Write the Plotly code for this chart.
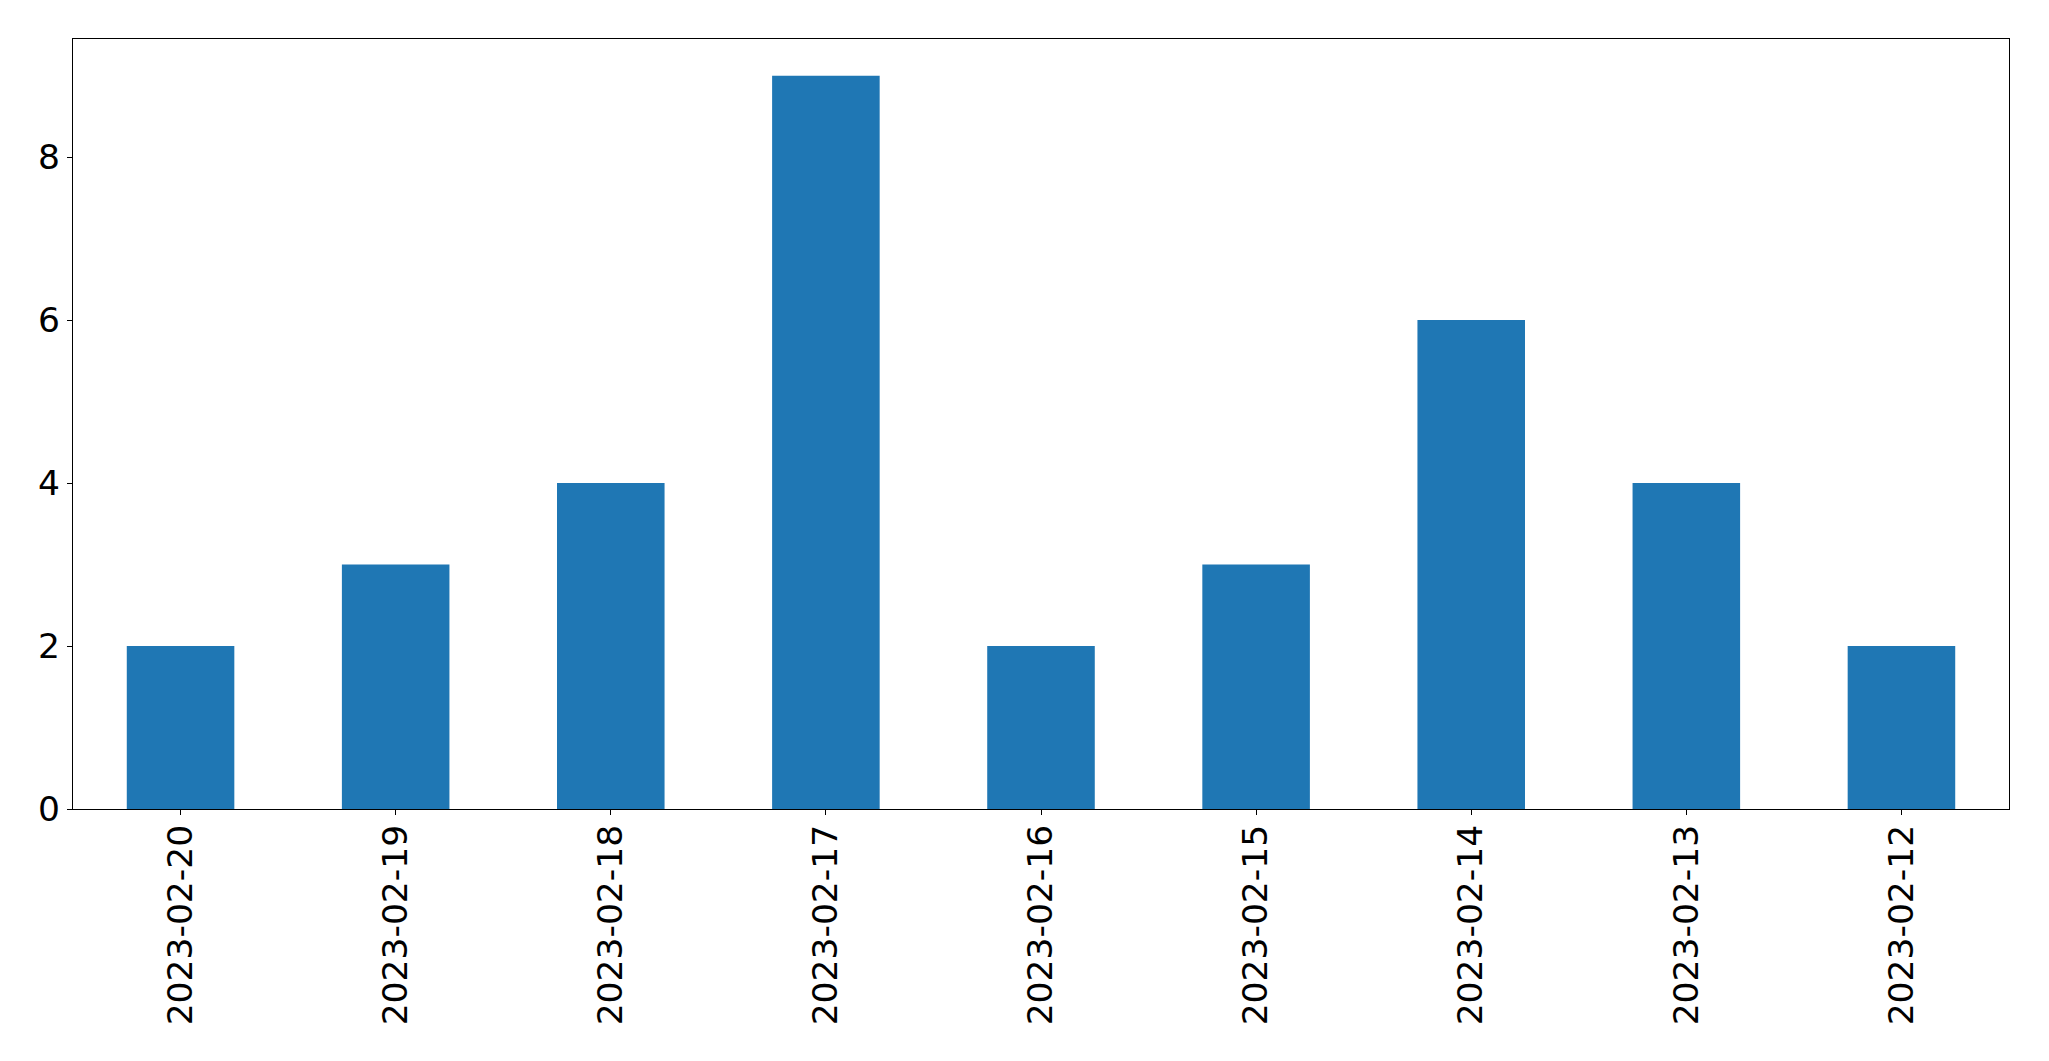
import plotly.graph_objects as go

dates = ["2023-02-20", "2023-02-19", "2023-02-18", "2023-02-17", "2023-02-16",
         "2023-02-15", "2023-02-14", "2023-02-13", "2023-02-12"]
counts = [2, 3, 4, 9, 2, 3, 6, 4, 2]
y_ticks = [0, 2, 4, 6, 8]

fig = go.Figure(go.Bar(x=dates, y=counts, marker_color="#1f77b4", marker_line_width=0))

axis_common = dict(showline=True, linecolor="black", linewidth=1.1, mirror=True,
                   ticks="outside", ticklen=5, tickwidth=1.1, tickcolor="black",
                   showgrid=False, zeroline=False,
                   tickfont=dict(family="DejaVu Sans", size=34.5, color="black"))

fig.update_layout(
    width=2049, height=1061,
    margin=dict(l=73, r=40, t=39, b=252, pad=0),
    plot_bgcolor="white", paper_bgcolor="white",
    bargap=0.5, showlegend=False,
    font=dict(family="DejaVu Sans", color="black"),
)
fig.update_xaxes(type="category", range=[-0.5, 8.5], tickangle=-90,
                 ticklabelstandoff=-4, **axis_common)
fig.update_yaxes(range=[0, 9.45], tickvals=y_ticks, **axis_common)

fig.write_html("out.html", config={"displayModeBar": False},
               post_script="document.body.style.margin='0';")
